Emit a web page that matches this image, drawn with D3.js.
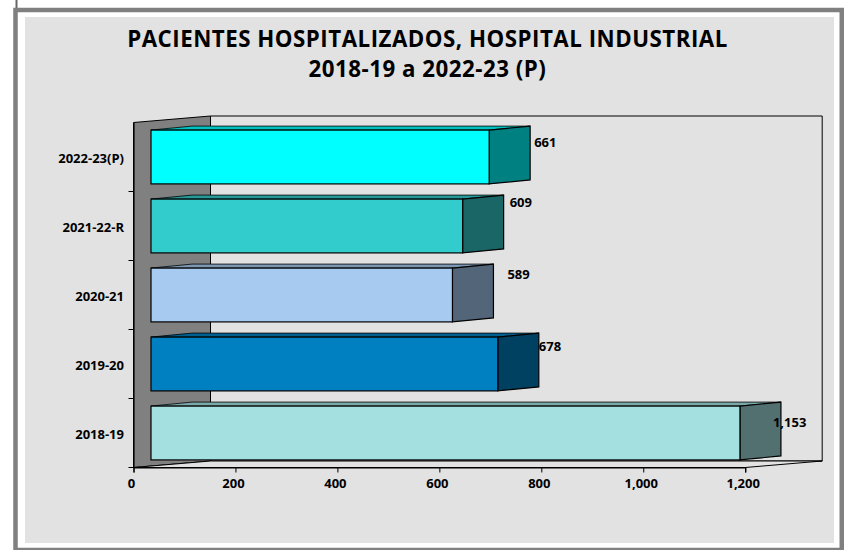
<!DOCTYPE html>
<html>
<head>
<meta charset="utf-8">
<script src="https://cdn.jsdelivr.net/npm/d3@7"></script>
<style>
body { margin: 0; background: #fff; }
text { font-family: "Open Sans", "Noto Sans", sans-serif; font-weight: bold; fill: #000; }
</style>
</head>
<body>
<script>
var categories = ["2022-23(P)", "2021-22-R", "2020-21", "2019-20", "2018-19"];
var values = [661, 609, 589, 678, 1153];
var frontColors = ["#00ffff", "#33cccc", "#a6caf0", "#0080c0", "#a4e0e0"];
var sideColors = ["#008080", "#1a6666", "#536578", "#004060", "#527070"];
var xTicks = [0, 200, 400, 600, 800, 1000, 1200];
var titleLines = ["PACIENTES HOSPITALIZADOS, HOSPITAL INDUSTRIAL", "2018-19 a 2022-23 (P)"];
// the value labels sit at odd spots in the original
var labelNudgeX = [4, 6, 14, 0, -8];
var labelNudgeY = [17, 8, 11, 14, 20.5];

var svg = d3.select("body").append("svg")
    .attr("width", 844)
    .attr("height", 550)
    .style("display", "block")

// outer frame
svg.append("rect").attr("x", 15.5).attr("y", 0).attr("width", 2).attr("height", 8).attr("fill", "#666")
svg.append("rect").attr("x", 15.5).attr("y", 10).attr("width", 826.25).attr("height", 540)
    .attr("fill", "#fff").attr("stroke", "#808080").attr("stroke-width", 4.5)
svg.append("rect").attr("x", 25).attr("y", 17).attr("width", 809).attr("height", 526).attr("fill", "#e2e2e2")

svg.selectAll(".title").data(titleLines).enter().append("text")
    .attr("class", "title")
    .attr("x", 427.5)
    .attr("y", function(d, i) { return 46.7 + i * 30.5; })
    .attr("text-anchor", "middle")
    .attr("font-size", 22.3)
    .attr("letter-spacing", 0.5)
    .text(function(d) { return d; })

var x = d3.scaleLinear().domain([0, 1200]).range([133.5, 745.2]);
var y = d3.scaleBand().domain(categories).range([122.5, 467.5]).paddingInner(0.22).paddingOuter(0.11);

var depthX = 77, depthY = 6.5;   // wall depth
var barOffset = 17.5;            // bars float off the left wall
var barDepthX = 41, barDepthY = 4;

function poly(pts) {
    return pts.map(function(p) { return p[0] + "," + p[1]; }).join(" ");
}

var x0 = x(0), xEnd = x(1200), yTop = y.range()[0], yBot = y.range()[1];

// back wall, side wall, floor
svg.append("polygon")
    .attr("points", poly([[x0 + depthX, yTop - depthY], [xEnd + depthX, yTop - depthY], [xEnd + depthX, yBot - depthY], [x0 + depthX, yBot - depthY]]))
    .attr("fill", "#e2e2e2").attr("stroke", "#000").attr("stroke-width", 1)
svg.append("polygon")
    .attr("points", poly([[x0, yTop], [x0 + depthX, yTop - depthY], [x0 + depthX, yBot - depthY], [x0, yBot]]))
    .attr("fill", "#808080").attr("stroke", "#000").attr("stroke-width", 1)
svg.append("polygon")
    .attr("points", poly([[x0, yBot], [x0 + depthX, yBot - depthY], [xEnd + depthX, yBot - depthY], [xEnd, yBot]]))
    .attr("fill", "#e2e2e2").attr("stroke", "#000").attr("stroke-width", 1)

// bars, painted top to bottom
categories.forEach(function(cat, i) {
    var l = x0 + barOffset;
    var r = x(values[i]) + barOffset + 1.2;
    var t = y(cat);
    var b = t + y.bandwidth();
    svg.append("polygon")
        .attr("points", poly([[l, t], [l + barDepthX, t - barDepthY], [r + barDepthX, t - barDepthY], [r, t]]))
        .attr("fill", d3.interpolateRgb(frontColors[i], sideColors[i])(0.5)).attr("stroke", "#000").attr("stroke-width", 0.8)
    svg.append("polygon")
        .attr("points", poly([[r, t], [r + barDepthX, t - barDepthY], [r + barDepthX, b - barDepthY], [r, b]]))
        .attr("fill", sideColors[i]).attr("stroke", "#000").attr("stroke-width", 1.2)
    svg.append("rect")
        .attr("x", l)
        .attr("y", t)
        .attr("width", r - l)
        .attr("height", b - t)
        .attr("fill", frontColors[i])
        .attr("stroke", "#000")
        .attr("stroke-width", 1.2)
    svg.append("text")
        .attr("x", r + barDepthX + labelNudgeX[i])
        .attr("y", t + labelNudgeY[i])
        .attr("font-size", 13)
        .text(d3.format(",")(values[i]))
})

var xAxis = svg.append("g")
    .attr("transform", "translate(0," + yBot + ")")
    .call(d3.axisBottom(x).tickValues(xTicks).tickFormat(d3.format(",")).tickSize(5).tickPadding(6))
xAxis.select(".domain").attr("stroke-width", 1.2)
xAxis.selectAll("text").attr("font-size", 13).attr("font-family", null).attr("dx", -2.5)

var yAxis = svg.append("g")
    .attr("transform", "translate(" + x0 + ",0)")
    .call(d3.axisLeft(y).tickSize(0).tickPadding(9.5))
yAxis.select(".domain").attr("stroke-width", 1.2)
yAxis.selectAll("text").attr("font-size", 13).attr("font-family", null).attr("dy", "0.45em")

// ticks between the categories
svg.selectAll(".catTick").data(categories).enter().append("line")
    .attr("class", "catTick")
    .attr("x1", x0 - 5)
    .attr("x2", x0)
    .attr("y1", function(d) { return y(d) + y.bandwidth() + y.step() * 0.11; })
    .attr("y2", function(d) { return y(d) + y.bandwidth() + y.step() * 0.11; })
    .attr("stroke", "#000")
</script>
</body>
</html>
